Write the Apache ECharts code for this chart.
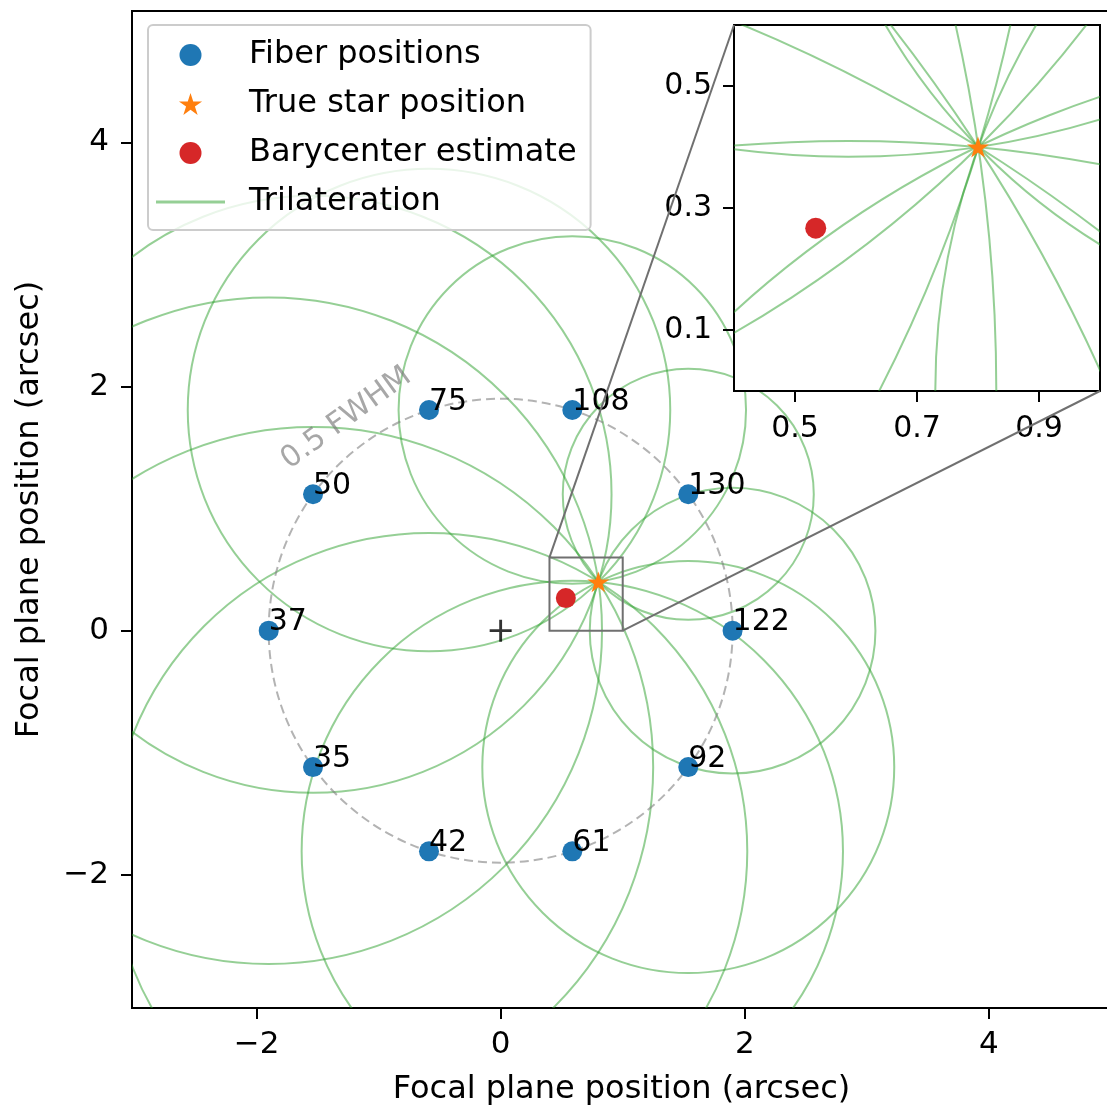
<!DOCTYPE html>
<html>
<head>
<meta charset="utf-8">
<script src="https://cdn.jsdelivr.net/npm/echarts@6/dist/echarts.min.js"></script>
<style>
  html, body { margin: 0; padding: 0; background: #fff; }
  #chart { width: 1107px; height: 1108px; }
</style>
</head>
<body>
<div id="chart"></div>
<script>
// ---------------- data ----------------
const fiberIds = ['122', '130', '108', '75', '50', '37', '35', '42', '61', '92'];
const fiberX = [1.900, 1.537, 0.587, -0.587, -1.537, -1.900, -1.537, -0.587, 0.587, 1.537];
const fiberY = [0.000, 1.117, 1.807, 1.807, 1.117, 0.000, -1.117, -1.807, -1.807, -1.117];
// trilateration circle radius around each fiber (arcsec)
const trilatRadius = [1.170, 1.028, 1.423, 1.976, 2.445, 2.730, 2.786, 2.607, 2.217, 1.687];
const starPos = [0.8, 0.4];
const baryPos = [0.534, 0.267];
const fieldCenter = [0, 0];
const fwhmRadius = 1.9;
const fwhmLabelText = '0.5 FWHM';
const fwhmLabelAngle = 126;      // degrees around the circle
const fwhmLabelRadius = 2.15;
const insetXRange = [0.4, 1.0];
const insetYRange = [0.0, 0.6];
const mainXRange = [-3.02, 5.0];
const mainYRange = [-3.09, 5.075];
const mainXTicks = [-2, 0, 2, 4];
const mainYTicks = [-2, 0, 2, 4];
const insetXTicks = [0.5, 0.7, 0.9];
const insetYTicks = [0.1, 0.3, 0.5];

// ---------------- styles ----------------
const FONT = 'DejaVu Sans';
const GREEN = 'rgba(44,160,44,0.5)';
const BLUE = '#1f77b4';
const ORANGE = '#ff7f0e';
const RED = '#d62728';
const STAR = 'path://M50,0L61.23,34.55L97.55,34.55L68.17,55.9L79.39,90.45L50,69.1L20.61,90.45L31.83,55.9L2.45,34.55L38.77,34.55Z';
const PLUS = 'path://M0,8.7H20V11.3H0Z M8.7,0H11.3V20H8.7Z';
const minus = v => String(v).replace('-', '\u2212');

const chart = echarts.init(document.getElementById('chart'), null, { renderer: 'canvas' });

const circleData = fiberX.map((x, i) => [x, fiberY[i], trilatRadius[i]]);

function circleRender(params, api) {
  const c = api.coord([api.value(0), api.value(1)]);
  const s = api.size([api.value(2), api.value(2)]);
  return {
    type: 'circle',
    shape: { cx: c[0], cy: c[1], r: (s[0] + s[1]) / 2 },
    style: { fill: null, stroke: GREEN, lineWidth: 2 }
  };
}

function axisCommon(fontSize, margin) {
  return {
    axisLine: { show: false, onZero: false },
    splitLine: { show: false },
    axisTick: { show: true, length: 11, lineStyle: { color: '#000', width: 2 } },
    axisLabel: { fontSize: fontSize, fontFamily: FONT, color: '#000', margin: margin, formatter: minus }
  };
}

const option = {
  animation: false,
  backgroundColor: '#fff',
  grid: [
    { left: 132, top: 11, width: 979, height: 997, show: true, borderColor: '#000', borderWidth: 2, backgroundColor: '#fff', z: 0,
      containLabel: false, outerBoundsMode: 'none' },
    { left: 734, top: 25, width: 366, height: 366, show: true, borderColor: '#000', borderWidth: 2, backgroundColor: '#fff', z: 10,
      containLabel: false, outerBoundsMode: 'none' }
  ],
  xAxis: [
    Object.assign(axisCommon(31, 21), {
      type: 'value', gridIndex: 0, min: mainXRange[0], max: mainXRange[1],
      name: 'Focal plane position (arcsec)', nameLocation: 'middle', nameGap: 66,
      nameTextStyle: { fontSize: 32, fontFamily: FONT, color: '#000' }
    }),
    Object.assign(axisCommon(30, 23), {
      type: 'value', gridIndex: 1, min: insetXRange[0], max: insetXRange[1], z: 12
    })
  ],
  yAxis: [
    Object.assign(axisCommon(31, 23), {
      type: 'value', gridIndex: 0, min: mainYRange[0], max: mainYRange[1],
      name: 'Focal plane position (arcsec)', nameLocation: 'middle', nameGap: 86,
      nameTextStyle: { fontSize: 32, fontFamily: FONT, color: '#000' }
    }),
    Object.assign(axisCommon(30, 22), {
      type: 'value', gridIndex: 1, min: insetYRange[0], max: insetYRange[1], z: 12
    })
  ],
  legend: {
    orient: 'vertical', left: 148, top: 25,
    padding: [14, 14, 12, 8],
    itemWidth: 69, itemHeight: 22, itemGap: 17,
    backgroundColor: 'rgba(255,255,255,0.8)', borderColor: '#cccccc', borderWidth: 2, borderRadius: 5,
    textStyle: { fontSize: 32, fontFamily: FONT, color: '#000', lineHeight: 31, padding: [0, 0, 0, 19] },
    selectedMode: false,
    z: 20,
    data: [
      { name: 'Fiber positions', icon: 'circle', itemStyle: { color: BLUE } },
      { name: 'True star position', icon: STAR, itemStyle: { color: ORANGE } },
      { name: 'Barycenter estimate', icon: 'circle', itemStyle: { color: RED } },
      { name: 'Trilateration', icon: 'path://M0,0H69V3H0Z', itemStyle: { color: GREEN } }
    ]
  },
  series: [
    // main plot
    {
      name: 'Trilateration', type: 'custom', xAxisIndex: 0, yAxisIndex: 0, clip: true, z: 2,
      itemStyle: { color: GREEN }, renderItem: circleRender, data: circleData, silent: true
    },
    {
      name: 'fwhm', type: 'custom', xAxisIndex: 0, yAxisIndex: 0, clip: true, z: 2, silent: true,
      data: [[fieldCenter[0], fieldCenter[1], fwhmRadius]],
      renderItem: function (params, api) {
        const c = api.coord([api.value(0), api.value(1)]);
        const s = api.size([api.value(2), api.value(2)]);
        const a = fwhmLabelAngle * Math.PI / 180;
        const p = api.coord([fieldCenter[0] + fwhmLabelRadius * Math.cos(a), fieldCenter[1] + fwhmLabelRadius * Math.sin(a)]);
        return {
          type: 'group',
          children: [
            { type: 'circle', shape: { cx: c[0], cy: c[1], r: (s[0] + s[1]) / 2 },
              style: { fill: null, stroke: 'rgba(128,128,128,0.6)', lineWidth: 2, lineDash: [9, 5] } },
            { type: 'text', x: p[0], y: p[1], rotation: (fwhmLabelAngle - 90) * Math.PI / 180,
              style: { text: fwhmLabelText, fill: 'rgba(120,120,120,0.65)', font: '30px "DejaVu Sans"', align: 'center', verticalAlign: 'middle' } }
          ]
        };
      }
    },
    {
      name: 'Fiber positions', type: 'scatter', xAxisIndex: 0, yAxisIndex: 0, z: 3,
      symbol: 'circle', symbolSize: 20, itemStyle: { color: BLUE, opacity: 1 },
      data: fiberX.map((x, i) => ({ name: fiberIds[i], value: [x, fiberY[i]] })),
      label: { show: true, formatter: '{b}', position: [10, 17], align: 'left', verticalAlign: 'bottom',
               fontSize: 30, lineHeight: 30, fontFamily: FONT, color: '#000' }
    },
    {
      name: 'center', type: 'scatter', xAxisIndex: 0, yAxisIndex: 0, z: 3,
      symbol: PLUS, symbolSize: 22, itemStyle: { color: '#000' }, data: [fieldCenter], silent: true
    },
    {
      name: 'Barycenter estimate', type: 'scatter', xAxisIndex: 0, yAxisIndex: 0, z: 4,
      symbol: 'circle', symbolSize: 20, itemStyle: { color: RED, opacity: 1 }, data: [baryPos]
    },
    {
      name: 'True star position', type: 'scatter', xAxisIndex: 0, yAxisIndex: 0, z: 5,
      symbol: STAR, symbolKeepAspect: true, symbolSize: 22, itemStyle: { color: ORANGE, opacity: 1 }, data: [starPos]
    },
    {
      name: 'insetBox', type: 'custom', xAxisIndex: 0, yAxisIndex: 0, z: 6, silent: true,
      data: [[insetXRange[0], insetYRange[0], insetXRange[1], insetYRange[1]]],
      renderItem: function (params, api) {
        const p0 = api.coord([api.value(0), api.value(3)]);
        const p1 = api.coord([api.value(2), api.value(1)]);
        return { type: 'rect', shape: { x: p0[0], y: p0[1], width: p1[0] - p0[0], height: p1[1] - p0[1] },
                 style: { fill: null, stroke: '#707070', lineWidth: 2 } };
      }
    },
    // inset
    {
      name: 'Trilateration', type: 'custom', xAxisIndex: 1, yAxisIndex: 1, clip: true, z: 11,
      itemStyle: { color: GREEN }, renderItem: circleRender, data: circleData, silent: true
    },
    {
      name: 'Barycenter estimate', type: 'scatter', xAxisIndex: 1, yAxisIndex: 1, z: 12,
      symbol: 'circle', symbolSize: 21, itemStyle: { color: RED, opacity: 1 }, data: [baryPos]
    },
    {
      name: 'True star position', type: 'scatter', xAxisIndex: 1, yAxisIndex: 1, z: 13,
      symbol: STAR, symbolKeepAspect: true, symbolSize: 22, itemStyle: { color: ORANGE, opacity: 1 }, data: [starPos]
    }
  ]
};

// tick positions
option.xAxis[0].axisLabel.customValues = mainXTicks;
option.xAxis[0].axisTick.customValues = mainXTicks;
option.yAxis[0].axisLabel.customValues = mainYTicks;
option.yAxis[0].axisTick.customValues = mainYTicks;
option.xAxis[1].axisLabel.customValues = insetXTicks;
option.xAxis[1].axisTick.customValues = insetXTicks;
option.yAxis[1].axisLabel.customValues = insetYTicks;
option.yAxis[1].axisTick.customValues = insetYTicks;

chart.setOption(option);

// connector lines between the zoom box and the inset
const a1 = chart.convertToPixel({ gridIndex: 0 }, [insetXRange[0], insetYRange[1]]);
const b1 = chart.convertToPixel({ gridIndex: 1 }, [insetXRange[0], insetYRange[1]]);
const a2 = chart.convertToPixel({ gridIndex: 0 }, [insetXRange[1], insetYRange[0]]);
const b2 = chart.convertToPixel({ gridIndex: 1 }, [insetXRange[1], insetYRange[0]]);
chart.setOption({
  graphic: [
    { type: 'line', z: 15, silent: true, shape: { x1: a1[0], y1: a1[1], x2: b1[0], y2: b1[1] }, style: { stroke: '#707070', lineWidth: 2 } },
    { type: 'line', z: 15, silent: true, shape: { x1: a2[0], y1: a2[1], x2: b2[0], y2: b2[1] }, style: { stroke: '#707070', lineWidth: 2 } }
  ]
});
</script>
</body>
</html>
